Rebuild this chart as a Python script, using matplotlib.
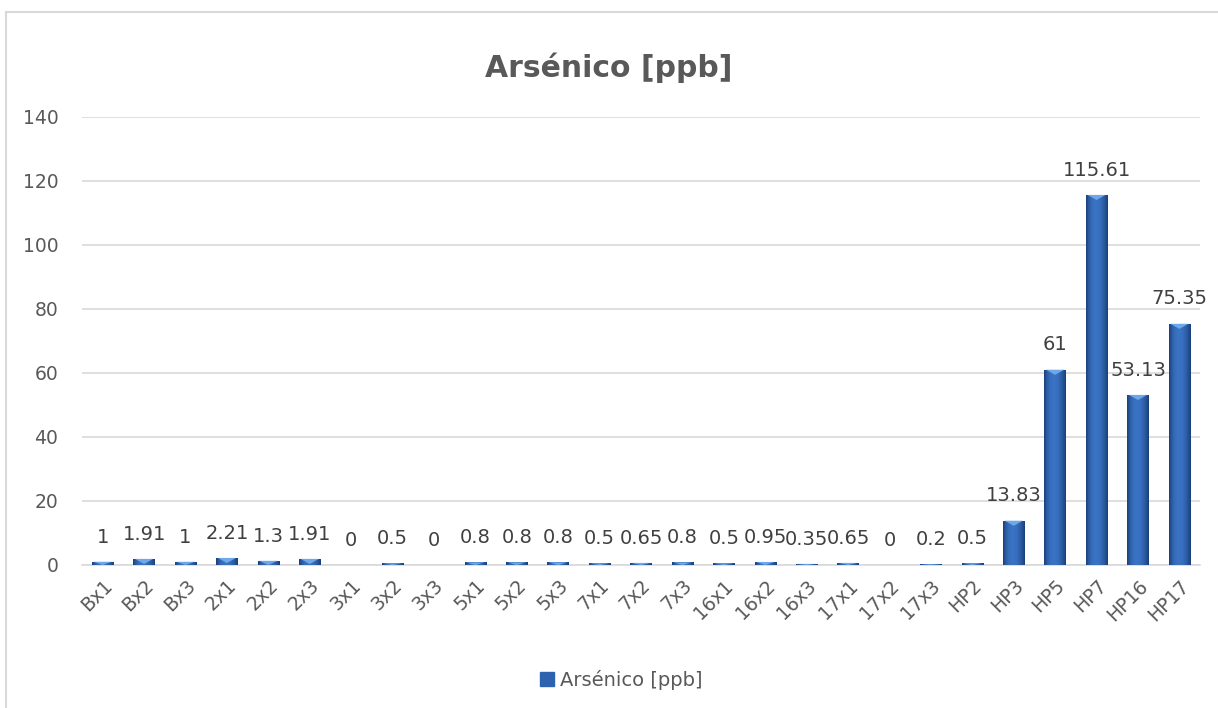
import matplotlib
matplotlib.use("Agg")
import matplotlib.pyplot as plt
import numpy as np
from matplotlib.patches import Rectangle, Polygon

muestras = ["Bx1", "Bx2", "Bx3", "2x1", "2x2", "2x3", "3x1", "3x2", "3x3",
            "5x1", "5x2", "5x3", "7x1", "7x2", "7x3", "16x1", "16x2", "16x3",
            "17x1", "17x2", "17x3", "HP2", "HP3", "HP5", "HP7", "HP16", "HP17"]
arsenico = [1, 1.91, 1, 2.21, 1.3, 1.91, 0, 0.5, 0, 0.8, 0.8, 0.8, 0.5, 0.65,
            0.8, 0.5, 0.95, 0.35, 0.65, 0, 0.2, 0.5, 13.83, 61, 115.61, 53.13, 75.35]
etiquetas = ["1", "1.91", "1", "2.21", "1.3", "1.91", "0", "0.5", "0", "0.8", "0.8",
             "0.8", "0.5", "0.65", "0.8", "0.5", "0.95", "0.35", "0.65", "0", "0.2",
             "0.5", "13.83", "61", "115.61", "53.13", "75.35"]
y_ticks = [0, 20, 40, 60, 80, 100, 120, 140]

gris = "#595959"

fig = plt.figure(figsize=(12.18, 7.08), dpi=100)
ax = fig.add_axes([0.0673, 0.202, 0.918, 0.633])

x = np.arange(len(muestras))
barras = ax.bar(x, arsenico, width=0.52, color="#2F62AE", zorder=2,
                label="Arsénico [ppb]")

# degradado horizontal para imitar el bisel de Excel
grad = np.array([0.0, 0.55, 0.85, 1.0, 1.0, 0.9, 0.7, 0.4, 0.0])
grad = np.interp(np.linspace(0, 8, 60), np.arange(9), grad).reshape(1, -1)
cmap = matplotlib.colors.LinearSegmentedColormap.from_list("bisel", ["#1A3F7A", "#3A73C4"])
for b in barras:
    h = b.get_height()
    if h <= 0:
        continue
    x0, w = b.get_x(), b.get_width()
    im = ax.imshow(grad, extent=[x0, x0 + w, 0, h], aspect="auto", cmap=cmap,
                   vmin=0, vmax=1, zorder=3)
    im.set_clip_path(b)
    # triangulito claro arriba
    tri_h = min(h, 1.6)
    ax.add_patch(Polygon([[x0 + w * 0.08, h], [x0 + w * 0.92, h], [x0 + w / 2, h - tri_h]],
                         closed=True, color="#6FA8E8", zorder=4, lw=0))

for xi, v, t in zip(x, arsenico, etiquetas):
    ax.annotate(t, (xi, v), xytext=(0, 11), textcoords="offset points",
                ha="center", va="bottom", fontsize=14, color="#404040")

ax.set_xlim(-0.5, len(muestras) - 0.5)
ax.set_ylim(0, 140)
ax.set_yticks(y_ticks)
ax.set_xticks(x)
ax.set_xticklabels(muestras, rotation=45, ha="right", rotation_mode="anchor")
ax.tick_params(axis="both", length=0, labelsize=13.5, colors=gris)
ax.tick_params(axis="y", pad=17)
ax.tick_params(axis="x", pad=8)
ax.grid(axis="y", color="#D9D9D9", lw=1.2, zorder=0)
for s in ["top", "right", "left"]:
    ax.spines[s].set_visible(False)
ax.spines["bottom"].set_color("#D9D9D9")
ax.spines["bottom"].set_linewidth(1.2)

fig.text(0.5, 0.904, "Arsénico [ppb]", ha="center", va="center",
         fontsize=21.5, fontweight="bold", color=gris)

leg = fig.legend(handles=[Rectangle((0, 0), 1, 1, color="#2F62AE")], labels=["Arsénico [ppb]"],
                 loc="center", bbox_to_anchor=(0.51, 0.04), frameon=False,
                 fontsize=14, handlelength=0.7, handleheight=0.7, handletextpad=0.3)
for t in leg.get_texts():
    t.set_color(gris)

# borde del área del gráfico
fig.patches.append(Rectangle((6 / 1218, -0.05), 1.1, 1 - 11.5 / 708 + 0.05,
                             transform=fig.transFigure, fill=False,
                             edgecolor="#D9D9D9", lw=1.5))

fig.savefig("out.png", dpi=100)
